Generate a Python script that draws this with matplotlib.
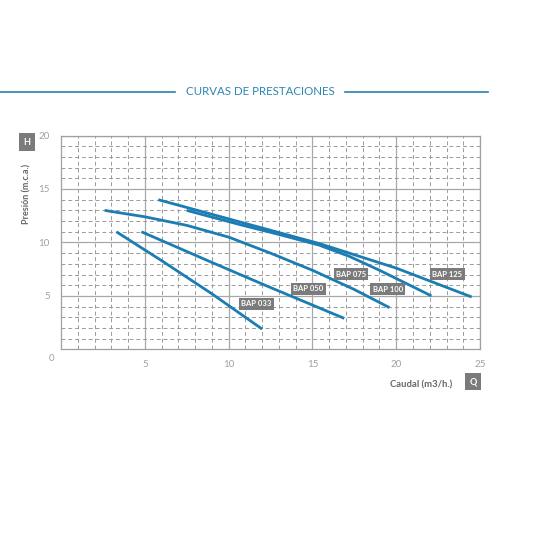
import matplotlib.pyplot as plt
from matplotlib.ticker import MultipleLocator

plt.rcParams['font.family'] = ['Lato', 'DejaVu Sans']

# curve data (caudal m3/h, presion m.c.a.)
bap033_q = [3.3, 6.0, 9.0, 12.0]
bap033_h = [11.0, 8.3, 5.2, 1.9]

bap050_q = [4.8, 8.9, 12.4, 16.9]
bap050_h = [11.0, 8.2, 5.85, 2.9]

bap075_q = [2.6, 5.0, 7.5, 10.0, 12.5, 15.0, 17.5, 19.6]
bap075_h = [13.0, 12.4, 11.6, 10.5, 9.0, 7.4, 5.6, 3.9]

bap100_q = [7.5, 10.6, 13.0, 15.4, 17.2, 19.0, 22.1]
bap100_h = [13.0, 11.7, 10.75, 9.75, 8.7, 7.4, 5.0]

bap125_q = [5.8, 10.6, 15.4, 20.0, 24.5]
bap125_h = [14.0, 11.95, 9.9, 7.6, 4.9]

labels = ['BAP 033', 'BAP 050', 'BAP 075', 'BAP 100', 'BAP 125']
label_q = [11.65, 14.75, 17.3, 19.5, 23.05]
label_h = [4.25, 5.65, 7.05, 5.62, 7.05]

blue = '#1b7db3'
grey = '#7b7b7b'

fig = plt.figure(figsize=(5.4, 5.4), dpi=100)

# title with side rules
fig.text(0.482, 0.830, 'CURVAS DE PRESTACIONES', ha='center', va='center',
         color='#2b86b3', fontsize=8.3)
fig.add_artist(plt.Line2D([0.0, 0.324], [0.830, 0.830], color='#2583ad', lw=1.2))
fig.add_artist(plt.Line2D([0.639, 0.903], [0.830, 0.830], color='#2583ad', lw=1.2))

ax = fig.add_axes([0.113, 0.353, 0.776, 0.396])

for q, h in [(bap033_q, bap033_h), (bap050_q, bap050_h), (bap075_q, bap075_h),
             (bap100_q, bap100_h), (bap125_q, bap125_h)]:
    ax.plot(q, h, color=blue, lw=2.0, solid_capstyle='butt',
            solid_joinstyle='round', zorder=3)

for t, q, h in zip(labels, label_q, label_h):
    ax.text(q, h, t, ha='center', va='center', color='white', fontsize=5.5,
            fontweight='bold', zorder=4,
            bbox=dict(boxstyle='square,pad=0.3', fc=grey, ec='none'))

ax.set_xlim(0, 25)
ax.set_ylim(0, 20)
ax.xaxis.set_major_locator(MultipleLocator(5))
ax.yaxis.set_major_locator(MultipleLocator(5))
ax.xaxis.set_minor_locator(MultipleLocator(1))
ax.yaxis.set_minor_locator(MultipleLocator(1))
ax.grid(which='major', color='#a8a8a8', lw=0.9, ls='-')
ax.grid(which='minor', color='#9a9a9a', lw=0.7, ls=(0, (4, 3)))
ax.set_axisbelow(True)
ax.tick_params(which='both', length=0, labelsize=7, labelcolor='#a0a0a0', pad=8)
ax.set_xticks([5, 10, 15, 20, 25])
ax.set_yticks([5, 10, 15, 20])
for s in ax.spines.values():
    s.set_color('#a0a0a0')
    s.set_linewidth(0.9)

fig.text(0.096, 0.337, '0', ha='center', va='center', color='#a0a0a0', fontsize=7)

# axis titles with little grey boxes
fig.text(0.05, 0.737, 'H', ha='center', va='center', color='white', fontsize=6.5,
         fontweight='bold', bbox=dict(boxstyle='square,pad=0.45', fc=grey, ec='none'))
fig.text(0.05, 0.641, 'Presión (m.c.a.)', ha='center', va='center', rotation=90,
         color='#666666', fontsize=6.5, fontweight='bold')
fig.text(0.78, 0.287, 'Caudal (m3/h.)', ha='center', va='center',
         color='#666666', fontsize=6.8, fontweight='bold')
fig.text(0.876, 0.293, 'Q', ha='center', va='center', color='white', fontsize=6.5,
         fontweight='bold', bbox=dict(boxstyle='square,pad=0.45', fc=grey, ec='none'))

fig.savefig('out.png', dpi=100, facecolor='white')
